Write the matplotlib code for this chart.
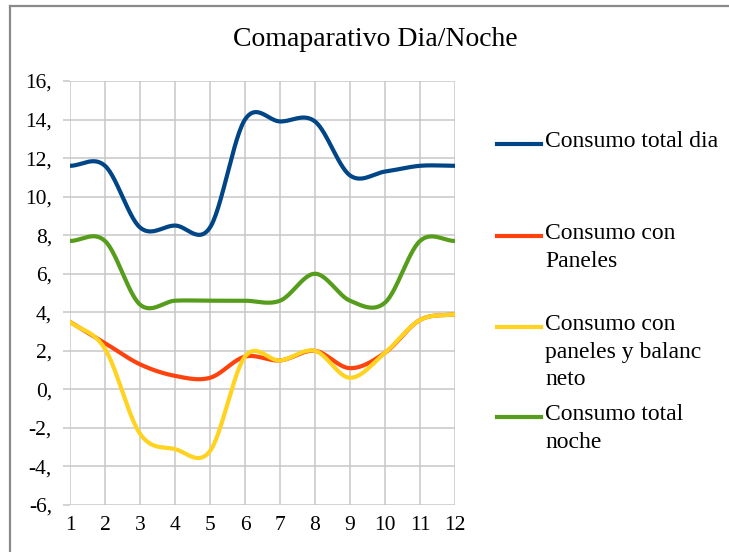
import numpy as np
import matplotlib
matplotlib.use("Agg")
import matplotlib.pyplot as plt
from matplotlib.lines import Line2D

# datos
meses = [1, 2, 3, 4, 5, 6, 7, 8, 9, 10, 11, 12]
total_dia = [11.6, 11.6, 8.4, 8.5, 8.4, 14.0, 13.9, 13.9, 11.1, 11.3, 11.6, 11.6]
con_paneles = [3.5, 2.4, 1.3, 0.7, 0.6, 1.7, 1.5, 2.0, 1.1, 1.9, 3.6, 3.9]
balance_neto = [3.5, 2.1, -2.3, -3.1, -3.2, 1.7, 1.5, 2.0, 0.6, 1.9, 3.6, 3.9]
total_noche = [7.7, 7.7, 4.4, 4.6, 4.6, 4.6, 4.6, 6.0, 4.6, 4.5, 7.7, 7.7]

series = [
    ("Consumo total dia", total_dia, "#004586"),
    ("Consumo con\nPaneles", con_paneles, "#ff420e"),
    ("Consumo con\npaneles y balanc\nneto", balance_neto, "#ffd320"),
    ("Consumo total\nnoche", total_noche, "#579d1c"),
]
yticks = [-6, -4, -2, 0, 2, 4, 6, 8, 10, 12, 14, 16]
ytick_labels = ["-6,", "-4,", "-2,", "0,", "2,", "4,", "6,", "8,", "10,", "12,", "14,", "16,"]

plt.rcParams["font.family"] = ["Liberation Serif", "DejaVu Serif"]


# curva suavizada (Catmull-Rom) para imitar las lineas suaves de la hoja de calculo
def suavizar(x, y, n=30):
    x = np.asarray(x, float)
    y = np.asarray(y, float)
    k = len(y)
    m = np.zeros(k)
    m[1:-1] = (y[2:] - y[:-2]) / 2
    m[0] = y[1] - y[0]
    m[-1] = y[-1] - y[-2]
    xs, ys = [], []
    for i in range(k - 1):
        t = np.linspace(0, 1, n, endpoint=(i == k - 2))
        h00 = 2 * t ** 3 - 3 * t ** 2 + 1
        h10 = t ** 3 - 2 * t ** 2 + t
        h01 = -2 * t ** 3 + 3 * t ** 2
        h11 = t ** 3 - t ** 2
        xs.append(x[i] + t * (x[i + 1] - x[i]))
        ys.append(h00 * y[i] + h10 * m[i] + h01 * y[i + 1] + h11 * m[i + 1])
    return np.concatenate(xs), np.concatenate(ys)


W, H = 729, 552
fig = plt.figure(figsize=(W / 100, H / 100), dpi=100)
ax = fig.add_axes([70 / W, 1 - 505 / H, (455 - 70) / W, (505 - 81) / H])

for nombre, vals, color in series:
    xs, ys = suavizar(meses, vals)
    ax.plot(xs, ys, color=color, lw=3, solid_capstyle="round", zorder=3)

ax.set_xlim(1, 12)
ax.set_ylim(-6, 16)
ax.set_xticks(meses)
ax.set_xticklabels([str(m) for m in meses], fontsize=15.5)
ax.set_yticks(yticks)
ax.set_yticklabels(ytick_labels, fontsize=15.5)
ax.grid(True, color="#c8c8c8", lw=1.1)
for s in ax.spines.values():
    s.set_visible(False)
ax.tick_params(axis="y", length=5, color="#c8c8c8", width=1.1, pad=8)
ax.tick_params(axis="x", length=0, pad=8)
ax.set_axisbelow(True)

fig.text(375 / W, 1 - 40 / H, "Comaparativo Dia/Noche", fontsize=20,
         ha="center", va="center")

# leyenda dibujada a mano (entradas con varias lineas)
ley_y = [144, 236, 327, 417]
for (nombre, vals, color), yy in zip(series, ley_y):
    fig.add_artist(Line2D([497 / W, 541 / W], [1 - yy / H, 1 - yy / H],
                          color=color, lw=3, transform=fig.transFigure))
    fig.text(545 / W, 1 - (yy - 13) / H, nombre, fontsize=17, ha="left",
             va="top", linespacing=1.42)

# marco del area del grafico
fig.add_artist(Line2D([10 / W, 10 / W], [0, 1 - 6 / H], color="#8a8a8a", lw=1.6,
                      transform=fig.transFigure))
fig.add_artist(Line2D([10 / W, 1], [1 - 6 / H, 1 - 6 / H], color="#8a8a8a", lw=1.6,
                      transform=fig.transFigure))

fig.savefig("out.png", dpi=100, facecolor="white")
